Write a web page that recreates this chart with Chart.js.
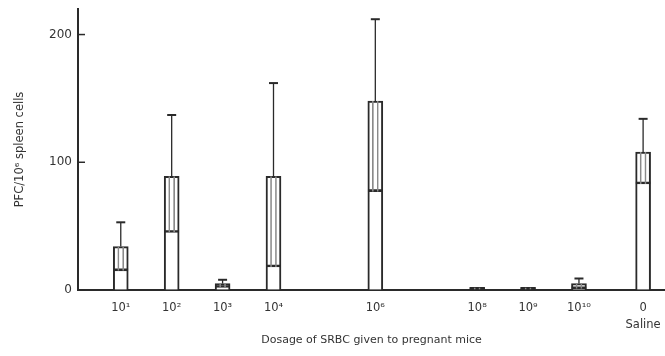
<!DOCTYPE html>
<html><head><meta charset="utf-8">
<script src="https://cdn.jsdelivr.net/npm/chart.js@4"></script>
<style>html,body{margin:0;padding:0;background:#fff}</style>
</head><body>
<canvas id="c" width="665" height="356"></canvas>
<script>
const doseLabels = ['10¹','10²','10³','10⁴','10⁶','10⁸','10⁹','10¹⁰',['0','Saline']];
const dosePositions = [1,2,3,4,6,8,9,10,11.26];
const meanPFC = [34,89,5,89,148,2,2,5,108];
const lowerPFC = [15,45,2,18,77,0,0,1,83];
const upperPFC = [53,137,8,162,212,2,2,9,134];
const yTicks = [0,100,200];

const ink = '#2a2a2a';
const outerData = dosePositions.map((x,i)=>({x:x,y:meanPFC[i]}));
const bandData = dosePositions.map((x,i)=>({x:x,y:[lowerPFC[i],meanPFC[i]]}));

const whiskerPlugin = {
  id:'whiskers',
  afterDatasetsDraw(chart){
    const ctx = chart.ctx, xs = chart.scales.x, ys = chart.scales.y;
    ctx.save();
    ctx.strokeStyle = ink;
    dosePositions.forEach((p,i)=>{
      if (upperPFC[i] <= meanPFC[i]) return;
      const px = xs.getPixelForValue(p);
      const y1 = ys.getPixelForValue(meanPFC[i]);
      const y2 = ys.getPixelForValue(upperPFC[i]);
      ctx.lineWidth = 1.3;
      ctx.beginPath(); ctx.moveTo(px,y1); ctx.lineTo(px,y2); ctx.stroke();
      ctx.lineWidth = 2;
      ctx.beginPath(); ctx.moveTo(px-4.5,y2); ctx.lineTo(px+4.5,y2); ctx.stroke();
    });
    ctx.lineWidth = 1.5;
    yTicks.forEach(v=>{
      const py = ys.getPixelForValue(v);
      ctx.beginPath(); ctx.moveTo(ys.right, py); ctx.lineTo(ys.right+7, py); ctx.stroke();
    });
    ctx.restore();
  }
};
const bgPlugin = {
  id:'bg',
  beforeDraw(chart){const c=chart.ctx;c.save();c.fillStyle='#fff';c.fillRect(0,0,chart.width,chart.height);c.restore();}
};

new Chart(document.getElementById('c'), {
  type:'bar',
  data:{
    datasets:[
      {data:bandData, grouped:false, barThickness:6, backgroundColor:'rgba(0,0,0,0)', borderColor:'#8a8a8a', borderWidth:{left:1,right:1,top:0,bottom:0}, borderSkipped:false, order:1},
      {data:bandData, grouped:false, barThickness:15, backgroundColor:'rgba(0,0,0,0)', borderColor:ink, borderWidth:{left:0,right:0,top:0,bottom:2}, borderSkipped:false, order:2},
      {data:outerData, grouped:false, barThickness:15,
        backgroundColor:(c)=> (c.raw && c.raw.y < 3) ? ink : '#fff',
        borderColor:ink, borderWidth:{left:2,right:2,top:2,bottom:0}, borderSkipped:false, order:3}
    ]
  },
  options:{
    responsive:false, animation:false, devicePixelRatio:1,
    layout:{padding:{top:9,right:0,bottom:0,left:0}},
    plugins:{legend:{display:false}, tooltip:{enabled:false}},
    scales:{
      x:{
        type:'linear', min:0.16, max:11.69, offset:false,
        afterBuildTicks(s){ s.ticks = dosePositions.map(v=>({value:v})); },
        afterFit(s){ s.height = 66; s.paddingLeft = 0; s.paddingRight = 0; },
        ticks:{ autoSkip:false, maxRotation:0, padding:9, color:'#333',
          font:{family:'DejaVu Sans', size:11.5, lineHeight:1.5},
          callback:(v,i)=>doseLabels[i] },
        grid:{display:true, drawOnChartArea:false, drawTicks:false},
        border:{display:true, color:ink, width:2},
        title:{display:true, text:'Dosage of SRBC given to pregnant mice', color:'#333',
          font:{family:'DejaVu Sans', size:11}, padding:{top:4,bottom:9}}
      },
      y:{
        min:0, max:220,
        afterBuildTicks(s){ s.ticks = yTicks.map(v=>({value:v})); },
        afterFit(s){ s.width = 78; s.paddingTop = 0; s.paddingBottom = 0; },
        ticks:{ padding:6, color:'#333', font:{family:'DejaVu Sans', size:12} },
        grid:{display:true, drawOnChartArea:false, drawTicks:false},
        border:{display:true, color:ink, width:2},
        title:{display:true, text:'PFC/10⁶ spleen cells', color:'#333',
          font:{family:'DejaVu Sans', size:11.5}, padding:{top:13,bottom:0}}
      }
    }
  },
  plugins:[bgPlugin, whiskerPlugin]
});
</script>
</body></html>
